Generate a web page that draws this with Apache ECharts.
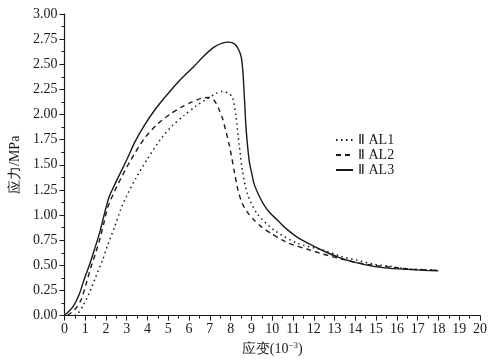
<!DOCTYPE html>
<html><head><meta charset="utf-8">
<script src="https://cdn.jsdelivr.net/npm/echarts@6/dist/echarts.min.js"></script>
<style>html,body{margin:0;padding:0;background:#fff}#c{width:491px;height:361px}</style>
</head><body><div id="c"></div>
<script>
const seriesNames = ['Ⅱ AL1', 'Ⅱ AL2', 'Ⅱ AL3'];
const xTicks = [0,1,2,3,4,5,6,7,8,9,10,11,12,13,14,15,16,17,18,19,20];
const yTicks = ['0.00','0.25','0.50','0.75','1.00','1.25','1.50','1.75','2.00','2.25','2.50','2.75','3.00'];
// strain (10^-3), stress (MPa)
const al1 = [[0.5,0],[0.65,0.02],[0.9,0.1],[1.21,0.23],[1.5,0.38],[1.85,0.56],[2.1,0.71],[2.41,0.88],[2.7,1.05],[2.97,1.18],[3.45,1.37],[4.0,1.56],[4.65,1.76],[5.2,1.89],[5.76,1.99],[6.3,2.08],[6.9,2.16],[7.3,2.21],[7.6,2.23],[7.9,2.21],[8.09,2.17],[8.25,1.99],[8.41,1.70],[8.57,1.44],[8.81,1.21],[9.29,1.01],[10.09,0.85],[11.2,0.72],[12.47,0.65],[13.3,0.59],[14.1,0.55],[14.9,0.51],[15.68,0.49],[16.3,0.47],[17.0,0.46],[17.6,0.455],[18.0,0.45]];
const al2 = [[0.15,0],[0.5,0.06],[0.81,0.16],[1.05,0.32],[1.29,0.49],[1.5,0.62],[1.69,0.75],[1.9,0.92],[2.09,1.08],[2.4,1.23],[2.73,1.37],[3.2,1.55],[3.84,1.76],[4.5,1.91],[5.13,2.01],[5.6,2.07],[6.09,2.12],[6.57,2.16],[6.95,2.17],[7.21,2.14],[7.42,2.06],[7.61,1.96],[7.93,1.70],[8.17,1.44],[8.35,1.25],[8.55,1.12],[8.8,1.03],[9.13,0.95],[9.5,0.88],[9.93,0.82],[10.5,0.75],[11.05,0.70],[11.7,0.66],[12.47,0.61],[13.2,0.57],[14.0,0.53],[14.9,0.50],[15.8,0.48],[16.7,0.46],[17.4,0.455],[18.0,0.45]];
const al3 = [[0,0],[0.25,0.05],[0.45,0.1],[0.73,0.22],[0.95,0.36],[1.2,0.5],[1.45,0.66],[1.69,0.82],[1.85,0.95],[2.01,1.08],[2.15,1.18],[2.3,1.25],[2.6,1.38],[3.0,1.55],[3.4,1.73],[3.84,1.89],[4.4,2.06],[4.99,2.21],[5.6,2.35],[6.24,2.48],[6.7,2.58],[7.2,2.67],[7.6,2.71],[7.9,2.72],[8.2,2.70],[8.4,2.64],[8.52,2.56],[8.6,2.40],[8.64,2.25],[8.68,2.10],[8.73,1.90],[8.8,1.72],[8.9,1.53],[9.0,1.43],[9.13,1.31],[9.35,1.20],[9.61,1.10],[9.9,1.02],[10.25,0.95],[10.7,0.86],[11.2,0.78],[11.9,0.70],[12.5,0.64],[13.2,0.58],[14.0,0.53],[14.87,0.49],[15.7,0.47],[16.5,0.46],[17.3,0.45],[18.0,0.445]];

const FONT = 'Liberation Serif';
const C = '#1a1a1a';
const chart = echarts.init(document.getElementById('c'), null, {renderer: 'canvas'});
function mk(name, data, type, width) {
  return {
    name: name, type: 'line', data: data, symbol: 'none', smooth: 0.25,
    lineStyle: {color: C, width: width, type: type},
    itemStyle: {color: C},
    animation: false
  };
}
chart.setOption({
  animation: false,
  backgroundColor: '#fff',
  grid: {left: 63, right: 11, top: 14, bottom: 41, containLabel: false},
  legend: {
    show: true,
    orient: 'vertical', left: 330, top: 128, itemWidth: 17, itemHeight: 10, itemGap: 1,
    itemStyle: {opacity: 0},
    textStyle: {fontFamily: FONT, fontSize: 14, color: C},
    data: seriesNames
  },
  xAxis: {
    type: 'value', min: 0, max: 20, interval: 1,
    name: '{a|应变(10}{s|−3}{a|)}', nameLocation: 'middle', nameGap: 24,
    nameTextStyle: {rich: {a: {fontFamily: FONT, fontSize: 14, color: C}, s: {fontFamily: FONT, fontSize: 9, color: C, verticalAlign: 'top', padding: [0,0,6,0]}}},
    axisLine: {show: true, lineStyle: {color: C, width: 1.2}},
    axisTick: {show: true, length: 5, inside: false, lineStyle: {color: C}},
    minorTick: {show: true, splitNumber: 2, length: 3, lineStyle: {color: C}},
    splitLine: {show: false},
    axisLabel: {fontFamily: FONT, fontSize: 14, color: C, margin: 7, formatter: v => String(xTicks[Math.round(v)])}
  },
  yAxis: {
    type: 'value', min: 0, max: 3, interval: 0.25,
    name: '应力/MPa', nameLocation: 'middle', nameGap: 42, nameRotate: 90,
    nameTextStyle: {fontFamily: FONT, fontSize: 14, color: C},
    axisLine: {show: true, lineStyle: {color: C, width: 1.2}},
    axisTick: {show: true, length: 5, lineStyle: {color: C}},
    minorTick: {show: true, splitNumber: 2, length: 3, lineStyle: {color: C}},
    splitLine: {show: false},
    axisLabel: {fontFamily: FONT, fontSize: 14, color: C, margin: 7, formatter: v => yTicks[Math.round(v / 0.25)]}
  },
  series: [
    mk(seriesNames[0], al1, [1.5, 3.5], 1.5),
    mk(seriesNames[1], al2, [5, 4], 1.4),
    mk(seriesNames[2], al3, 'solid', 1.4)
  ]
});
</script></body></html>
